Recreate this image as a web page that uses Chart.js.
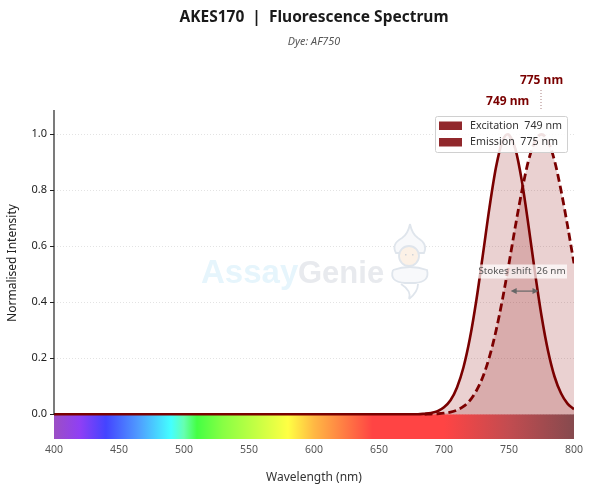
<!DOCTYPE html>
<html>
<head>
<meta charset="utf-8">
<style>
  html, body { margin: 0; padding: 0; background: #fff; }
  #wrap { width: 590px; height: 502px; }
</style>
<script src="https://cdn.jsdelivr.net/npm/chart.js@4"></script>
</head>
<body>
<div id="wrap"><canvas id="myChart" width="590" height="502"></canvas></div>
<script>
const wavelengths = [400,450,500,550,600,650,680,685,690,695,700,705,710,715,720,725,730,735,740,745,749,750,755,760,765,770,775,780,785,790,795,800];
const excitation = [0,0,0,0,0,0,0,.002,.005,.011,.025,.05,.096,.168,.273,.411,.573,.739,.882,.976,1,.998,.946,.83,.674,.506,.352,.227,.135,.075,.038,.018];
const emission = [null,null,null,null,null,null,null,0,.001,.002,.004,.008,.015,.028,.05,.085,.135,.206,.298,.411,.513,.539,.674,.8,.906,.976,1,.976,.906,.8,.674,.539];
const yTicks = [0,0.2,0.4,0.6,0.8,1.0];
const exPeak = 749;
const emPeak = 775;
const titleText = 'AKES170  |  Fluorescence Spectrum';
const subtitleText = 'Dye: AF750';
const yTitleText = 'Normalised Intensity';
const spectrumNm = [400,420,440,465,490,500,510,530,580,600,645,700,750,800];
const spectrumColours = ['#9c4fc4','#8f3ff5','#4444ff','#4f9cff','#44ffff','#66ffb0','#44ff44','#88ff44','#ffff44','#ffb844','#ff4444','#ff4444','#c24c50','#864a4e'];

const dark = '#7a0000';
const fontName = '"Noto Sans", sans-serif';

const toPoints = (ys) => wavelengths.map((x, i) => ({ x: x, y: ys[i] }));

// the little genie next to the watermark text
function drawGenie(ctx) {
  ctx.strokeStyle = '#dfe5ec';
  ctx.lineWidth = 1.8;
  ctx.fillStyle = '#f8f9fb';
  ctx.beginPath();
  ctx.moveTo(410, 224); ctx.quadraticCurveTo(412, 234, 418, 238); ctx.quadraticCurveTo(428, 244, 424, 253);
  ctx.lineTo(396, 253); ctx.quadraticCurveTo(391, 244, 402, 238); ctx.quadraticCurveTo(408, 234, 410, 224);
  ctx.fill(); ctx.stroke();
  ctx.beginPath(); ctx.arc(409, 256, 10, 0, Math.PI * 2); ctx.fillStyle = '#fcf1e6'; ctx.fill(); ctx.stroke();
  ctx.beginPath(); ctx.moveTo(393, 270); ctx.quadraticCurveTo(410, 264, 427, 270); ctx.quadraticCurveTo(430, 282, 415, 283);
  ctx.lineTo(405, 283); ctx.quadraticCurveTo(389, 282, 393, 270);
  ctx.fillStyle = '#f8f9fb'; ctx.fill(); ctx.stroke();
  ctx.beginPath(); ctx.moveTo(401, 284); ctx.quadraticCurveTo(412, 291, 409, 299); ctx.moveTo(418, 284); ctx.quadraticCurveTo(418, 292, 409, 299); ctx.stroke();
  ctx.fillStyle = '#cfd3d8';
  ctx.fillRect(405, 254, 1.5, 1.5);
  ctx.fillRect(412, 254, 1.5, 1.5);
}

// strip + watermark go under the curves
const underlay = {
  id: 'underlay',
  beforeDatasetsDraw(chart) {
    const { ctx, chartArea: a, scales: { x, y } } = chart;
    ctx.save();
    ctx.textBaseline = 'alphabetic';
    ctx.font = 'bold 33px "Liberation Sans", sans-serif';
    ctx.fillStyle = '#e6f5fc';
    ctx.fillText('Assay', 201, 283);
    ctx.font = 'bold 31px "Liberation Sans", sans-serif';
    ctx.fillStyle = '#e8eaee';
    ctx.fillText('Genie', 298, 283);
    drawGenie(ctx);
    // visible spectrum strip below zero
    const g = ctx.createLinearGradient(x.getPixelForValue(400), 0, x.getPixelForValue(800), 0);
    spectrumNm.forEach((nm, i) => g.addColorStop((nm - 400) / 400, spectrumColours[i]));
    ctx.fillStyle = g;
    ctx.fillRect(a.left, y.getPixelForValue(0), a.right - a.left, a.bottom - y.getPixelForValue(0));
    ctx.restore();
  }
};

// titles, spine, peak labels, stokes arrow, legend on top of the curves
const overlay = {
  id: 'overlay',
  afterDatasetsDraw(chart) {
    const { ctx, chartArea: a, scales: { x, y } } = chart;
    const px = x.getPixelForValue(exPeak), qx = x.getPixelForValue(emPeak);
    const midX = (a.left + a.right) / 2;
    ctx.save();
    ctx.textAlign = 'center';
    ctx.textBaseline = 'middle';

    ctx.fillStyle = '#1a1a1a';
    ctx.font = 'bold 15.5px ' + fontName;
    ctx.fillText(titleText, midX, 18);
    ctx.fillStyle = '#555';
    ctx.font = 'italic 10.8px ' + fontName;
    ctx.fillText(subtitleText, midX, 42);

    // y title is centred on the 0-1 part of the axis, not the whole axis
    ctx.save();
    ctx.translate(13, 263);
    ctx.rotate(-Math.PI / 2);
    ctx.fillStyle = '#222';
    ctx.font = '12px ' + fontName;
    ctx.fillText(yTitleText, 0, 0);
    ctx.restore();

    // left spine stops at zero
    ctx.strokeStyle = '#222';
    ctx.lineWidth = 1.2;
    ctx.beginPath();
    ctx.moveTo(a.left, a.top);
    ctx.lineTo(a.left, y.getPixelForValue(0));
    ctx.stroke();

    // peak labels
    ctx.fillStyle = dark;
    ctx.font = 'bold 12px ' + fontName;
    ctx.fillText(exPeak + ' nm', px, y.getPixelForValue(1.118));
    ctx.fillText(emPeak + ' nm', qx, y.getPixelForValue(1.193));
    ctx.strokeStyle = '#a98080';
    ctx.lineWidth = 1;
    ctx.setLineDash([1, 2]);
    ctx.beginPath();
    ctx.moveTo(qx - 0.5, 90);
    ctx.lineTo(qx - 0.5, 111);
    ctx.stroke();
    ctx.setLineDash([]);

    // stokes shift
    const ay = y.getPixelForValue(0.44), x0 = px + 3, x1 = qx - 3;
    ctx.strokeStyle = '#666';
    ctx.fillStyle = '#666';
    ctx.lineWidth = 1.2;
    ctx.beginPath(); ctx.moveTo(x0 + 3, ay); ctx.lineTo(x1 - 3, ay); ctx.stroke();
    [[x0, 1], [x1, -1]].forEach(([tx, d]) => {
      ctx.beginPath(); ctx.moveTo(tx, ay); ctx.lineTo(tx + 6 * d, ay - 3); ctx.lineTo(tx + 6 * d, ay + 3); ctx.closePath(); ctx.fill();
    });
    const lx = 522, ly = y.getPixelForValue(0.51);
    ctx.fillStyle = 'rgba(255,255,255,0.7)';
    ctx.fillRect(lx - 45, ly - 7, 90, 14);
    ctx.fillStyle = '#555';
    ctx.font = '9.8px ' + fontName;
    ctx.fillText('Stokes shift  ' + (emPeak - exPeak) + ' nm', lx, ly);

    // legend box
    ctx.fillStyle = 'rgba(255,255,255,0.88)';
    ctx.strokeStyle = '#d0d0d0';
    ctx.lineWidth = 1;
    ctx.beginPath();
    ctx.roundRect(435.5, 116.5, 132, 36, 2);
    ctx.fill();
    ctx.stroke();
    ctx.textAlign = 'left';
    ctx.font = '10.7px ' + fontName;
    chart.data.datasets.forEach((ds, i) => {
      const rowY = 125.5 + i * 16.5;
      ctx.fillStyle = 'rgba(130,10,15,0.88)';
      ctx.fillRect(439, rowY - 4, 23, 8.5);
      ctx.fillStyle = '#333';
      ctx.fillText(ds.label, 470, rowY);
    });
    ctx.restore();
  }
};

var ctx = document.getElementById('myChart').getContext('2d');
var chart = new Chart(ctx, {
  type: 'line',
  data: {
    datasets: [
      {
        label: 'Excitation  ' + exPeak + ' nm',
        data: toPoints(excitation),
        borderColor: dark,
        backgroundColor: 'rgba(139,0,0,0.18)',
        borderWidth: 2.6,
        fill: 'origin',
        pointRadius: 0,
        cubicInterpolationMode: 'monotone'
      },
      {
        label: 'Emission  ' + emPeak + ' nm',
        data: toPoints(emission),
        borderColor: dark,
        backgroundColor: 'rgba(139,0,0,0.18)',
        borderWidth: 2.8,
        borderDash: [8, 4],
        fill: 'origin',
        pointRadius: 0,
        cubicInterpolationMode: 'monotone'
      }
    ]
  },
  plugins: [underlay, overlay],
  options: {
    responsive: false,
    animation: false,
    layout: { padding: { top: 110, right: 16 } },
    plugins: {
      legend: { display: false },
      tooltip: { enabled: false }
    },
    scales: {
      x: {
        type: 'linear',
        min: 400,
        max: 800,
        afterFit(scale) { scale.height = 63; },
        grid: { display: false, drawTicks: false },
        border: { display: false },
        ticks: { stepSize: 50, maxRotation: 0, padding: 5, color: '#555', font: { family: fontName, size: 10.5 } },
        title: { display: true, text: 'Wavelength (nm)', color: '#333', font: { family: fontName, size: 12 }, padding: { top: 0, bottom: 17 } }
      },
      y: {
        min: -0.0882,
        max: 1.0868,
        afterFit(scale) { scale.width = 54; },
        afterBuildTicks(scale) { scale.ticks = yTicks.map((v) => ({ value: v })); },
        border: { display: false, dash: [1, 2] },
        grid: { color: '#dcdcdc', lineWidth: 0.8, tickColor: '#222', tickBorderDash: [], tickLength: 4, tickWidth: 1 },
        ticks: { padding: 3, color: '#222', font: { family: fontName, size: 11 }, callback: (v) => v.toFixed(1) }
      }
    }
  }
});
</script>
</body>
</html>
